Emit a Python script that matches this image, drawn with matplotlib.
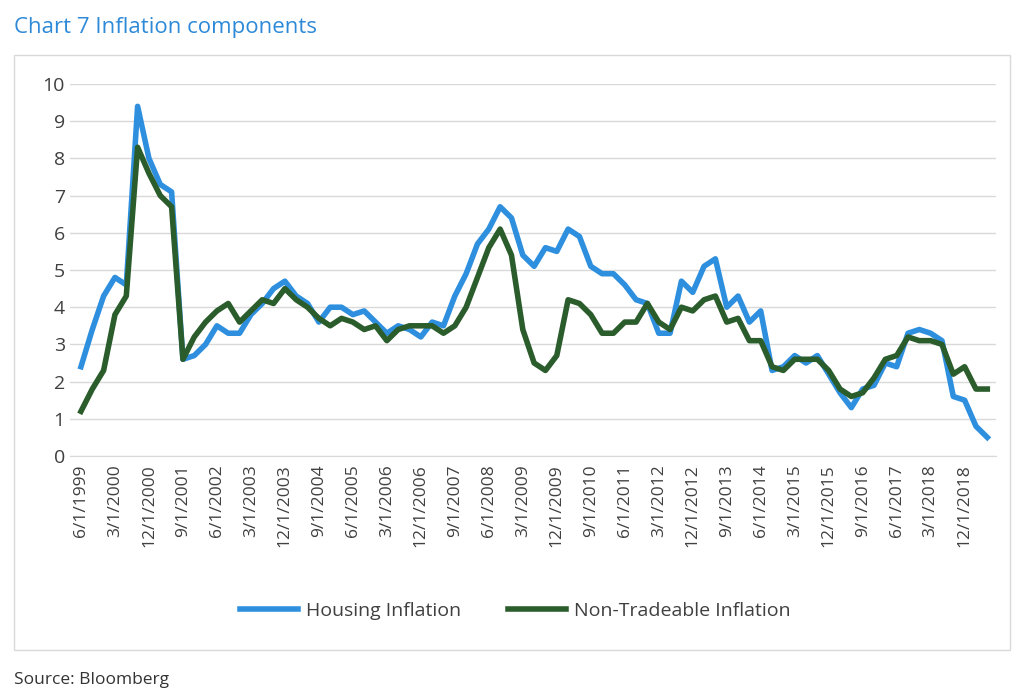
import matplotlib.pyplot as plt
from matplotlib.patches import Rectangle
import numpy as np

plt.rcParams['font.family'] = ['Open Sans', 'DejaVu Sans']

housing = [2.4, 3.4, 4.3, 4.8, 4.6, 9.4, 8.0, 7.3, 7.1, 2.6,
           2.7, 3.0, 3.5, 3.3, 3.3, 3.8, 4.1, 4.5, 4.7, 4.3,
           4.1, 3.6, 4.0, 4.0, 3.8, 3.9, 3.6, 3.3, 3.5, 3.4,
           3.2, 3.6, 3.5, 4.3, 4.9, 5.7, 6.1, 6.7, 6.4, 5.4,
           5.1, 5.6, 5.5, 6.1, 5.9, 5.1, 4.9, 4.9, 4.6, 4.2,
           4.1, 3.3, 3.3, 4.7, 4.4, 5.1, 5.3, 4.0, 4.3, 3.6,
           3.9, 2.3, 2.4, 2.7, 2.5, 2.7, 2.2, 1.7, 1.3, 1.8,
           1.9, 2.5, 2.4, 3.3, 3.4, 3.3, 3.1, 1.6, 1.5, 0.8, 0.5]
non_tradeable = [1.2, 1.8, 2.3, 3.8, 4.3, 8.3, 7.6, 7.0, 6.7, 2.6,
                 3.2, 3.6, 3.9, 4.1, 3.6, 3.9, 4.2, 4.1, 4.5, 4.2,
                 4.0, 3.7, 3.5, 3.7, 3.6, 3.4, 3.5, 3.1, 3.4, 3.5,
                 3.5, 3.5, 3.3, 3.5, 4.0, 4.8, 5.6, 6.1, 5.4, 3.4,
                 2.5, 2.3, 2.7, 4.2, 4.1, 3.8, 3.3, 3.3, 3.6, 3.6,
                 4.1, 3.6, 3.4, 4.0, 3.9, 4.2, 4.3, 3.6, 3.7, 3.1,
                 3.1, 2.4, 2.3, 2.6, 2.6, 2.6, 2.3, 1.8, 1.6, 1.7,
                 2.1, 2.6, 2.7, 3.2, 3.1, 3.1, 3.0, 2.2, 2.4, 1.8, 1.8]

# quarterly dates starting 6/1/1999
dates = []
m, y = 6, 1999
for i in range(len(housing)):
    dates.append(f"{m}/1/{y}")
    m += 3
    if m > 12:
        m -= 12
        y += 1

fig = plt.figure(figsize=(10.24, 6.95), dpi=100)
fig.patches.append(Rectangle((14/1024, 1-650/695), 996/1024, 595/695, transform=fig.transFigure,
                             fill=False, edgecolor='#d9d9d9', linewidth=1))
fig.text(14/1024, 1-27/695, 'Chart 7 Inflation components', color='#2e8ad8', fontsize=16, va='center')
fig.text(14/1024, 1-680/695, 'Source: Bloomberg', color='#333333', fontsize=12.5, va='center')

ax = fig.add_axes([0.068, 1-456/695, 0.905, (456-84)/695])
x = np.arange(len(housing))
ax.plot(x, housing, color='#2e8fdf', linewidth=4, label='Housing Inflation', solid_joinstyle='round')
ax.plot(x, non_tradeable, color='#2b5c2c', linewidth=4, label='Non-Tradeable Inflation', solid_joinstyle='round')

ax.set_ylim(0, 10)
ax.set_yticks(range(11))
ax.set_xlim(-1, len(housing) - 0.2)
ax.set_xticks(x[::3])
ax.set_xticklabels(dates[::3], rotation=90, fontsize=12.5, color='#404040')
ax.tick_params(axis='y', labelsize=14, colors='#404040', length=0)
ax.tick_params(axis='x', length=0, pad=6)
ax.grid(axis='y', color='#d9d9d9', linewidth=1)
ax.set_axisbelow(True)
for s in ['top', 'right', 'left']:
    ax.spines[s].set_visible(False)
ax.spines['bottom'].set_color('#d9d9d9')

fig.legend(loc='center', bbox_to_anchor=(0.503, 1-611/695), ncol=2, frameon=False,
           fontsize=14, handlelength=3.0, handletextpad=0.4, columnspacing=2.4,
           labelcolor='#404040')

fig.savefig('out.png', dpi=100)
